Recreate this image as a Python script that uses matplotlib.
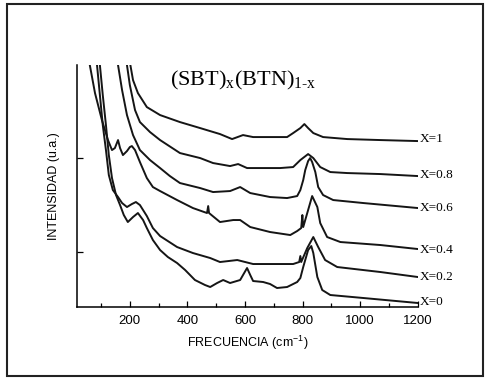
import matplotlib
matplotlib.use("Agg")
import matplotlib.pyplot as plt
from matplotlib.patches import Rectangle
from matplotlib.ticker import MultipleLocator

# Raman spectra (cm^-1 vs arbitrary units, curves already offset)
freq_x1 = [190, 200, 211, 228, 259, 305, 374, 444, 513, 555, 593, 628, 746, 767,
           792, 806, 819, 837, 871, 955, 1070, 1200]
int_x1 = [265, 245, 227, 214, 200, 192, 185, 179, 173, 168, 172, 170, 170, 174,
          179, 183, 179, 174, 170, 168, 167, 166]

freq_x08 = [185, 190, 200, 218, 235, 270, 305, 374, 444, 489, 548, 576, 607, 663,
            722, 767, 792, 819, 837, 861, 896, 955, 1070, 1200]
int_x08 = [250, 242, 222, 197, 185, 175, 167, 154, 149, 144, 141, 143, 139, 139,
           139, 140, 147, 153, 149, 140, 135, 134, 133, 131]

freq_x06 = [150, 159, 173, 190, 211, 235, 270, 305, 339, 374, 444, 489, 548, 583,
            618, 687, 746, 781, 792, 802, 809, 819, 826, 833, 844, 854, 871, 906,
            1011, 1200]
int_x06 = [260, 242, 217, 192, 172, 157, 147, 139, 131, 124, 119, 115, 116, 120,
           114, 110, 109, 111, 117, 127, 137, 146, 149, 145, 135, 120, 112, 107,
           104, 99]

freq_x04 = [50, 61, 79, 103, 124, 138, 148, 159, 166, 176, 190, 200, 207, 218,
            235, 259, 280, 305, 364, 419, 468, 472, 475, 513, 559, 583, 618, 687,
            757, 781, 795, 799, 802, 819, 833, 851, 861, 885, 931, 1070, 1200]
int_x04 = [265, 242, 214, 187, 167, 157, 159, 167, 159, 152, 156, 160, 161, 157,
           145, 129, 120, 116, 107, 99, 94, 101, 94, 85, 87, 87, 80, 75,
           72, 76, 79, 92, 80, 97, 111, 100, 84, 70, 65, 62, 58]

freq_x02 = [60, 86, 96, 106, 117, 127, 141, 159, 173, 190, 207, 221, 235, 259,
            280, 305, 364, 419, 479, 513, 573, 628, 711, 767, 788, 792, 795, 816,
            837, 854, 878, 920, 1070, 1200]
int_x02 = [270, 242, 212, 182, 157, 132, 117, 110, 104, 100, 103, 105, 102, 91,
           79, 71, 60, 54, 49, 45, 47, 43, 43, 43, 45, 51, 45, 59,
           70, 60, 47, 40, 35, 30]

freq_x0 = [70, 96, 106, 117, 127, 138, 152, 166, 179, 193, 211, 228, 246, 259,
           280, 305, 332, 364, 392, 426, 461, 479, 503, 524, 548, 583, 597, 607,
           618, 628, 663, 687, 711, 746, 781, 792, 802, 819, 830, 837, 851, 868,
           896, 1011, 1200]
int_x0 = [270, 242, 212, 182, 152, 129, 112, 102, 92, 85, 90, 94, 87, 79,
          67, 57, 50, 44, 37, 27, 22, 20, 24, 27, 24, 27, 34, 39,
          32, 26, 25, 23, 19, 20, 25, 29, 40, 57, 61, 54, 30, 17,
          12, 9, 4]

series = [
    (freq_x1, int_x1), (freq_x08, int_x08), (freq_x06, int_x06),
    (freq_x04, int_x04), (freq_x02, int_x02), (freq_x0, int_x0),
]
curve_labels = ["X=1", "X=0.8", "X=0.6", "X=0.4", "X=0.2", "X=0"]
label_heights = [168, 132, 99, 57, 30, 5]

fig = plt.figure(figsize=(4.87, 3.84), dpi=100)
ax = fig.add_axes([0.159, 0.2005, 0.699, 0.630])

for (f, i) in series:
    ax.plot(f, i, color="#151515", lw=1.4)

for lab, h in zip(curve_labels, label_heights):
    ax.text(1208, h, lab, family="Liberation Serif", fontsize=9.5,
            va="center", ha="left", clip_on=False)

plt.rcParams["mathtext.fontset"] = "custom"
plt.rcParams["mathtext.rm"] = "Liberation Serif"
ax.text(594, 227, r"(SBT)$_\mathregular{x}$(BTN)$_\mathregular{1\text{-}x}$",
        family="Liberation Serif", fontsize=16, ha="center", va="center")

ax.set_xlim(18, 1200)
ax.set_ylim(0, 242)
ax.spines["top"].set_visible(False)
ax.spines["right"].set_visible(False)
for s in ("left", "bottom"):
    ax.spines[s].set_linewidth(1.1)

ax.xaxis.set_major_locator(MultipleLocator(200))
ax.xaxis.set_minor_locator(MultipleLocator(100))
ax.set_yticks([55, 149])
ax.set_yticklabels([])
ax.tick_params(axis="both", which="both", direction="in", width=0.9)
ax.tick_params(axis="x", which="major", length=4, pad=6)
ax.tick_params(axis="x", which="minor", length=3)
ax.tick_params(axis="y", length=4)
for t in ax.get_xticklabels():
    t.set_family("Liberation Sans")
    t.set_fontsize(9.5)

ax.set_xlabel(r"FRECUENCIA (cm$^\mathregular{-1}$)", family="Liberation Sans",
              fontsize=9, labelpad=5)
ax.set_ylabel("INTENSIDAD (u.a.)", family="Liberation Sans", fontsize=9,
              labelpad=9)

# scanned page frame around the whole figure
fig.patches.append(Rectangle((7 / 487, 1 - 376 / 384), 476 / 487, 372 / 384,
                             transform=fig.transFigure, fill=False,
                             edgecolor="#222222", lw=1.5))

fig.savefig("out.png", dpi=100)
